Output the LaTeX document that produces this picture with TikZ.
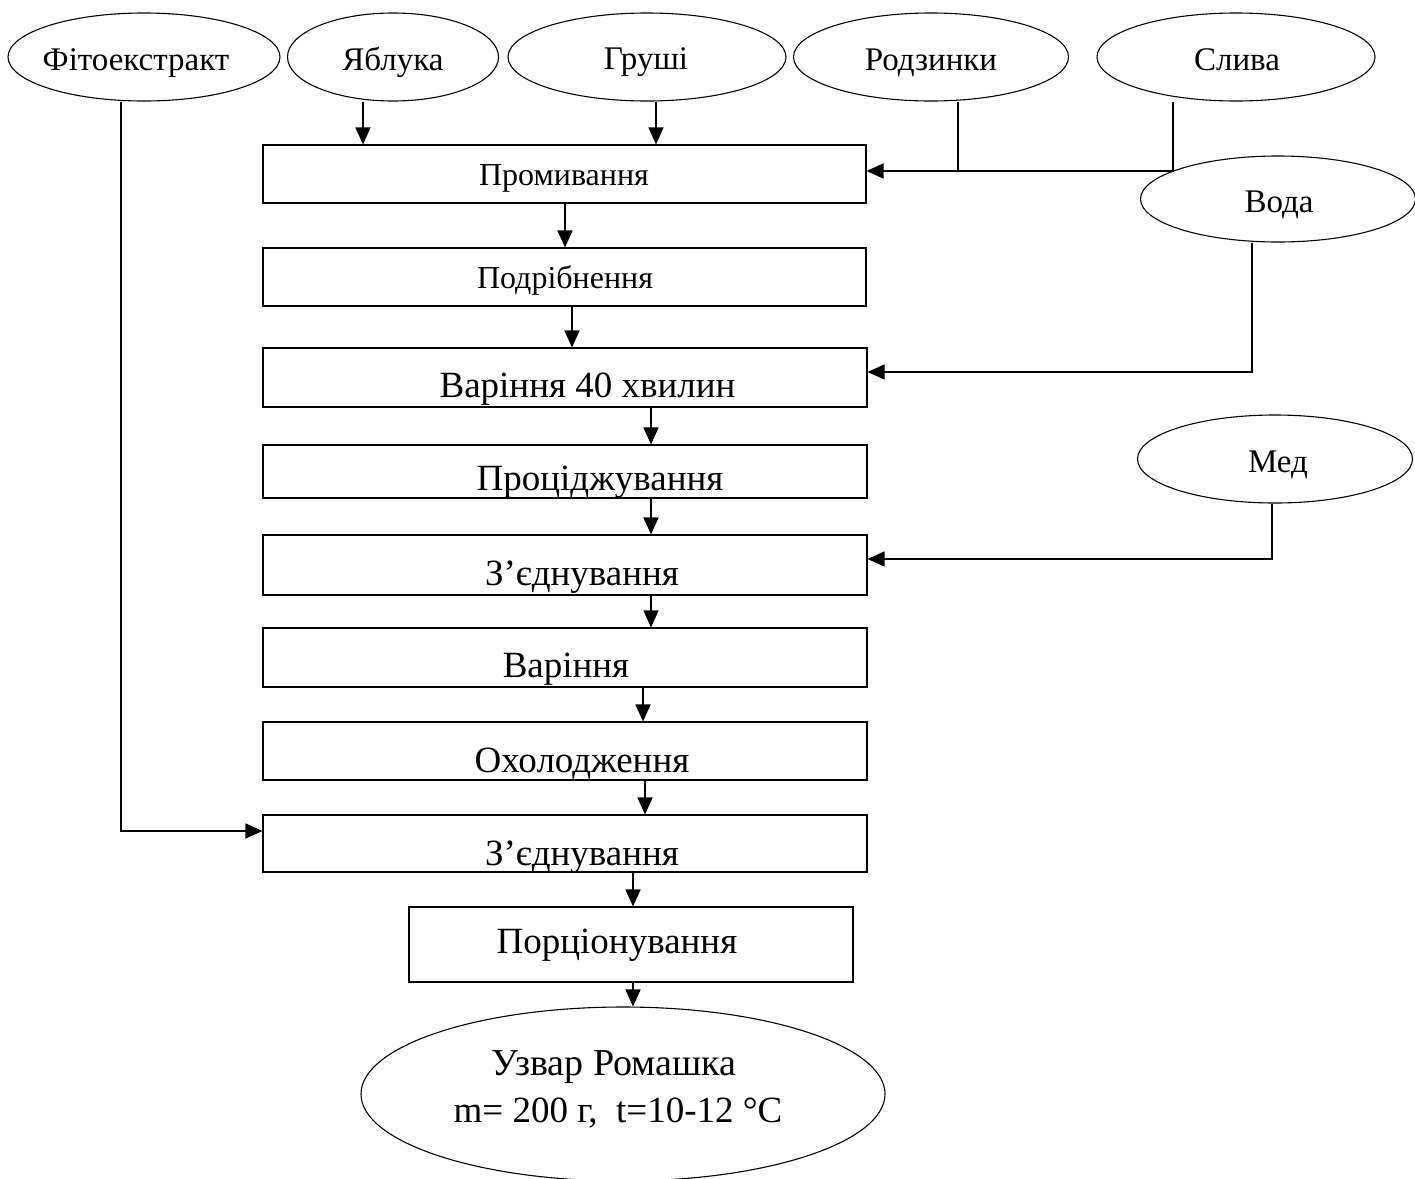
\documentclass[tikz,border=0pt]{standalone}
\usepackage{fontspec}
\setmainfont{Liberation Serif}
\usetikzlibrary{shapes.geometric,arrows.meta,calc}
\begin{document}
\begin{tikzpicture}[x=1pt,y=-1pt,
  box/.style={draw, line width=1.1pt, rectangle, inner sep=0pt},
  oval/.style={draw, line width=1.1pt, ellipse, inner sep=0pt},
  el/.style={inner sep=0pt, anchor=base, font=\fontsize{33}{40}\selectfont},
  sm/.style={inner sep=0pt, anchor=base, font=\fontsize{32}{38}\selectfont},
  lg/.style={inner sep=0pt, anchor=base, font=\fontsize{37}{44}\selectfont},
  conn/.style={line width=1.6pt},
  arr/.style={line width=1.6pt, -{Triangle[length=17pt,width=15pt]}}
]
\fill[white] (0,0) rectangle (1415,1178);
\useasboundingbox (0,0) rectangle (1415,1178);
\begin{scope}
\clip (0,0) rectangle (1415,1178);
% top ellipses
\node[oval, minimum width=272pt, minimum height=88pt] (fito) at (144,57) {};
\node[oval, minimum width=211pt, minimum height=88pt] (yabl) at (393,57) {};
\node[oval, minimum width=278pt, minimum height=88pt] (grushi) at (647,57) {};
\node[oval, minimum width=275pt, minimum height=88pt] (rodz) at (931,57) {};
\node[oval, minimum width=278pt, minimum height=88pt] (slyva) at (1236,57) {};
\node[oval, minimum width=275pt, minimum height=86pt] (voda) at (1278,199) {};
\node[oval, minimum width=275pt, minimum height=88pt] (med) at (1275,459) {};
\node[el] (lfito) at (136,70) {Фітоекстракт};
\node[el] (lyabl) at (393,70) {Яблука};
\node[el] (lgrushi) at (646,69) {Груші};
\node[el] (lrodz) at (931,70) {Родзинки};
\node[el] (lslyva) at (1237,70) {Слива};
\node[el] (lvoda) at (1279,212) {Вода};
\node[el] (lmed) at (1278,472) {Мед};
% boxes
\node[box, minimum width=603pt, minimum height=58pt] (b1) at (564.5,174) {};
\node[box, minimum width=603pt, minimum height=58pt] (b2) at (564.5,277) {};
\node[box, minimum width=604pt, minimum height=59pt] (b3) at (565,377.5) {};
\node[box, minimum width=604pt, minimum height=53pt] (b4) at (565,471.5) {};
\node[box, minimum width=604pt, minimum height=60pt] (b5) at (565,565) {};
\node[box, minimum width=604pt, minimum height=59pt] (b6) at (565,657.5) {};
\node[box, minimum width=604pt, minimum height=58pt] (b7) at (565,751) {};
\node[box, minimum width=604pt, minimum height=57pt] (b8) at (565,843.5) {};
\node[box, minimum width=444pt, minimum height=75pt] (b9) at (631,944.5) {};
% labels
\node[sm] (t1) at (564,185) {Промивання};
\node[sm] (t2) at (565,288) {Подрібнення};
\node[lg] (t3) at (587.5,397) {Варіння 40 хвилин};
\node[lg] (t4) at (600,490) {Проціджування};
\node[lg] (t5) at (582,585) {З’єднування};
\node[lg] (t6) at (566,677) {Варіння};
\node[lg] (t7) at (582,772) {Охолодження};
\node[lg] (t8) at (582,865) {З’єднування};
\node[lg] (t9) at (617,953) {Порціонування};
% final
\node[oval, minimum width=524pt, minimum height=174pt] (final) at (623,1094) {};
\node[lg, font=\fontsize{38}{44}\selectfont] (tf1) at (614,1075) {Узвар Ромашка};
\node[lg] (tf2) at (618,1122) {m= 200 г,~ t=10-12 °C};
\end{scope}
% connectors
\draw[arr] (yabl.south -| 363,0) -- (b1.north -| 363,0);
\draw[arr] (grushi.south -| 656,0) -- (b1.north -| 656,0);
\coordinate (j1) at (958,171);
\coordinate (j2) at (1173,171);
\draw[conn] (rodz.south -| j1) -- (j1);
\draw[arr] (slyva.south -| j2) -- (j2) -- (j2 -| b1.east);
\coordinate (vc) at (1252,372);
\draw[arr] (voda.south -| vc) -- (vc) -- (vc -| b3.east);
\coordinate (mc) at (1272,559);
\draw[arr] (med.south -| mc) -- (mc) -- (mc -| b5.east);
\coordinate (fc) at (121,831);
\draw[arr] (fito.south -| fc) -- (fc) -- (fc -| b8.west);
\draw[arr] (b1.south -| 565,0) -- (b2.north -| 565,0);
\draw[arr] (b2.south -| 572,0) -- (b3.north -| 572,0);
\draw[arr] (b3.south -| 651,0) -- (b4.north -| 651,0);
\draw[arr] (b4.south -| 651,0) -- (b5.north -| 651,0);
\draw[arr] (b5.south -| 651,0) -- (b6.north -| 651,0);
\draw[arr] (b6.south -| 643,0) -- (b7.north -| 643,0);
\draw[arr] (b7.south -| 645,0) -- (b8.north -| 645,0);
\draw[arr] (b8.south -| 633,0) -- (b9.north -| 633,0);
\draw[arr] (b9.south -| 633,0) -- (final.north -| 633,0);
\end{tikzpicture}
\end{document}
